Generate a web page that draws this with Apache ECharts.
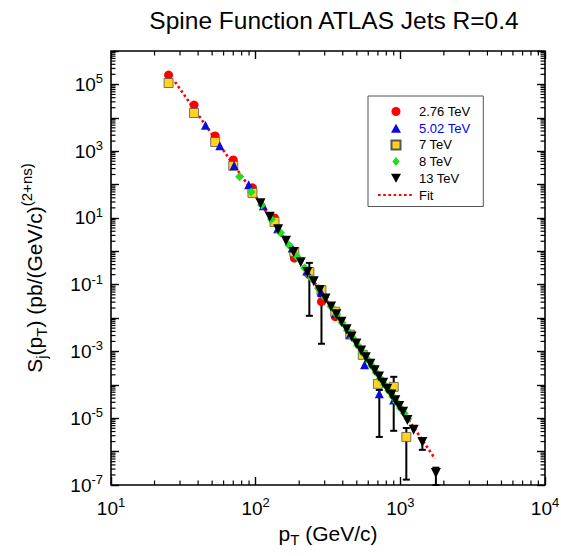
<!DOCTYPE html>
<html><head><meta charset="utf-8">
<script src="https://cdn.jsdelivr.net/npm/echarts@6/dist/echarts.min.js"></script>
<style>html,body{margin:0;padding:0;background:#fff}#c{width:561px;height:556px}</style>
</head><body><div id="c"></div>
<script>
// ---- data (pT in GeV/c, S_j in pb/(GeV/c)^(2+ns)) ----
const pt276 = [25, 37.5, 52.5, 70, 95, 135, 185, 235, 285, 355];
const s276  = [1.9e5, 2.4e4, 2850, 545, 80, 10, 0.63, 0.2, 0.031, 0.011];
const pt502 = [45, 56.5, 71, 89.5, 113, 142, 179, 225.5, 283.5, 357, 449.5, 566, 715.5, 900];
const s502  = [6000, 1450, 372, 98, 23, 4.7, 1.26, 0.256, 0.060, 0.014, 3.25e-3, 3.98e-4, 5.4e-5, 3.5e-5];
const pt7   = [25, 37.5, 52.5, 70, 95, 135, 185, 235, 285, 355, 450, 550, 700, 900, 1100];
const s7    = [1.1e5, 1.39e4, 1880, 361, 56, 7.6, 0.96, 0.24, 0.069, 0.0155, 3.2e-3, 7.9e-4, 1.07e-4, 8.7e-5, 2.75e-6];
const pt8   = [77.5, 93, 110, 128.5, 148.5, 170, 193, 218, 244.5, 272, 301, 331.5, 363, 396, 431, 468, 506.5, 546.5, 588.5, 632.5, 679, 727.5, 778, 831, 886, 943, 1002, 1063, 1126];
const s8    = [170, 60, 24.3, 9.06, 3.61, 1.53, 0.684, 0.317, 0.153, 0.078, 0.0411, 0.0223, 0.0126, 7.25e-3, 4.24e-3, 2.52e-3, 1.53e-3, 9.44e-4, 5.92e-4, 3.74e-4, 2.39e-4, 1.54e-4, 1.01e-4, 6.65e-5, 4.44e-5, 2.99e-5, 2.04e-5, 1.40e-5, 9.7e-6];
const pt13  = [108, 125, 143, 162, 183, 205, 228, 252, 277, 304, 332, 361, 392, 425, 460, 497, 536, 577, 620, 665, 712, 761, 812, 866, 923, 982, 1044, 1119, 1236, 1420, 1761];
const s13   = [27.4, 10.8, 4.58, 2.07, 0.96, 0.468, 0.239, 0.127, 0.0697, 0.0387, 0.0221, 0.0130, 7.73e-3, 4.63e-3, 2.81e-3, 1.72e-3, 1.07e-3, 6.69e-4, 4.25e-4, 2.73e-4, 1.77e-4, 1.16e-4, 7.7e-5, 5.1e-5, 3.43e-5, 2.32e-5, 1.57e-5, 8.9e-6, 4.5e-6, 1.95e-6, 2.3e-7];
const fitPt = [27.7, 91.4, 152, 1205, 1738];
const fitS  = [1.18e5, 79, 3.1, 6.3e-6, 6.1e-7];
// error bars
const errPt   = [235, 285, 715.5, 900, 1100, 1420, 1761];
const errLow  = [0.0117, 1.7e-3, 2.75e-6, 4.2e-6, 1.45e-7, 1.13e-6, 1e-7];
const errHigh = [0.45, 0.045, 7e-5, 1.74e-4, 5.1e-6, 2.4e-6, 3.3e-7];
// axis
const xTickExps = [1, 2, 3, 4];
const yLabelExps = [-7, -5, -3, -1, 1, 3, 5];
const seriesNames = ['2.76 TeV', '5.02 TeV', '7 TeV', '8 TeV', '13 TeV', 'Fit'];

const F = 'Liberation Sans, Arial, sans-serif';
const zip = (a, b) => a.map((v, i) => [v, b[i]]);
const xMinor = [], yMinor = [];
for (let e = 1; e < 4; e++) for (let m = 2; m <= 9; m++) xMinor.push(m * Math.pow(10, e));
for (let e = -7; e < 6; e++) for (let m = 2; m <= 9; m++) yMinor.push(m * Math.pow(10, e));
const TICK = {stroke: '#000', lineWidth: 1.2};
const ML = 4.5;

const ICON = {
  circle: 'path://M5,0A5,5,0,1,1,5,10A5,5,0,1,1,5,0Z',
  up: 'path://M5,0L10,9L0,9Z',
  rect: 'path://M0,0H10V10H0Z',
  diamond: 'path://M5,0L10,6L5,12L0,6Z',
  down: 'path://M0,0L10,0L5,9Z'
};

const supRich = {
  b: {fontFamily: F, fontSize: 19, color: '#000', lineHeight: 24},
  s: {fontFamily: F, fontSize: 13, color: '#000', lineHeight: 14, verticalAlign: 'top'}
};

const chart = echarts.init(document.getElementById('c'), null, {renderer: 'svg'});
chart.setOption({
  animation: false,
  backgroundColor: '#fff',
  title: {
    text: 'Spine Function ATLAS Jets R=0.4', left: 329, top: 3, textAlign: 'center',
    textStyle: {fontFamily: F, fontSize: 24.5, fontWeight: 'normal', color: '#000'}
  },
  legend: {
    data: [
      {name: seriesNames[0], icon: ICON.circle},
      {name: seriesNames[1], icon: ICON.up, textStyle: {color: '#0000ff'}},
      {name: seriesNames[2], icon: ICON.rect},
      {name: seriesNames[3], icon: ICON.diamond},
      {name: seriesNames[4], icon: ICON.down},
      {name: seriesNames[5], itemStyle: {opacity: 0}}
    ],
    orient: 'vertical', left: 368, top: 96, itemWidth: 36, itemHeight: 9, itemGap: 3.7,
    symbolKeepAspect: true,
    padding: [9, 13, 5, 9], borderColor: '#555', borderWidth: 1, backgroundColor: '#fff',
    textStyle: {fontFamily: F, fontSize: 13, color: '#000'}, selectedMode: false
  },
  grid: {left: 111, right: 16, top: 51, bottom: 71, show: true, borderColor: '#000', borderWidth: 1.6,
         backgroundColor: 'transparent', outerBoundsMode: 'none'},
  xAxis: [
    {type: 'log', logBase: 10, min: 10, max: 10000, position: 'bottom',
     axisLine: {show: false, onZero: false}, splitLine: {show: false},
     axisTick: {inside: true, length: 8, lineStyle: {color: '#000', width: 1.4}},
     axisLabel: {margin: 11, interval: 0,
       formatter: v => { const e = Math.round(Math.log10(v)); return xTickExps.includes(e) ? '{b|10}{s|' + e + '}' : ''; },
       rich: supRich},
     name: '{n|p}{sub|T}{n| (GeV/c)}', nameLocation: 'middle', nameGap: 34,
     nameTextStyle: {rich: {
       n: {fontFamily: F, fontSize: 21, color: '#000', lineHeight: 28},
       sub: {fontFamily: F, fontSize: 15, color: '#000', lineHeight: 14, verticalAlign: 'bottom'}}}},
    {type: 'log', logBase: 10, min: 10, max: 10000, position: 'top',
     axisLine: {show: false, onZero: false}, splitLine: {show: false}, axisLabel: {show: false},
     axisTick: {inside: true, length: 8, lineStyle: {color: '#000', width: 1.4}}}
  ],
  yAxis: [
    {type: 'log', logBase: 10, min: 1e-7, max: 1e6, position: 'left',
     axisLine: {show: false, onZero: false}, axisTick: {show: false}, axisLabel: {show: false}, splitLine: {show: false}},
    {type: 'value', min: -7, max: 6, interval: 1, position: 'left',
     axisLine: {show: false, onZero: false}, splitLine: {show: false},
     axisTick: {inside: true, length: 8, lineStyle: {color: '#000', width: 1.4}},
     axisLabel: {margin: 8, interval: 0,
       formatter: v => yLabelExps.includes(v) ? '{b|10}{s|' + v + '}' : '', rich: supRich},
     name: '{n|S}{sub|j}{n|(p}{sub|T}{n|) (pb/(GeV/c)}{sup|(2+ns)}', nameLocation: 'middle', nameGap: 62, nameRotate: 90,
     nameTextStyle: {rich: {
       n: {fontFamily: F, fontSize: 21, color: '#000', lineHeight: 30},
       sub: {fontFamily: F, fontSize: 15, color: '#000', lineHeight: 14, verticalAlign: 'bottom'},
       sup: {fontFamily: F, fontSize: 15, color: '#000', lineHeight: 16, verticalAlign: 'top'}}}},
    {type: 'value', min: -7, max: 6, interval: 1, position: 'right',
     axisLine: {show: false, onZero: false}, splitLine: {show: false}, axisLabel: {show: false},
     axisTick: {inside: true, length: 8, lineStyle: {color: '#000', width: 1.4}}}
  ],
  series: [
    {type: 'line', name: 'Fit', data: zip(fitPt, fitS), symbol: 'none', z: 1, silent: true,
     lineStyle: {color: '#ff0000', width: 2.6, type: [2.6, 2.6]}, itemStyle: {color: '#ff0000'}},
    {type: 'custom', name: 'err', data: errPt.map((p, i) => [p, errLow[i], errHigh[i]]), z: 2, silent: true,
     encode: {x: 0, y: [1, 2]},
     renderItem: (p, api) => {
       const lo = api.coord([api.value(0), api.value(1)]), hi = api.coord([api.value(0), api.value(2)]);
       const w = 3.5, st = {stroke: '#000', lineWidth: 2};
       return {type: 'group', children: [
         {type: 'line', shape: {x1: lo[0], y1: lo[1], x2: hi[0], y2: hi[1]}, style: st},
         {type: 'line', shape: {x1: lo[0] - w, y1: lo[1], x2: lo[0] + w, y2: lo[1]}, style: st},
         {type: 'line', shape: {x1: hi[0] - w, y1: hi[1], x2: hi[0] + w, y2: hi[1]}, style: st}]};
     }},
    {type: 'scatter', name: '2.76 TeV', data: zip(pt276, s276), symbol: 'circle', symbolSize: 9, z: 3, silent: true,
     itemStyle: {color: '#ff0000', opacity: 1}},
    {type: 'scatter', name: '7 TeV', data: zip(pt7, s7), symbol: 'rect', symbolSize: 9, z: 4, silent: true,
     itemStyle: {color: '#ffd21f', borderColor: '#555', borderWidth: 0.8, opacity: 1}},
    {type: 'scatter', name: '5.02 TeV', data: zip(pt502, s502), symbol: 'triangle', symbolSize: 9, z: 5, silent: true,
     itemStyle: {color: '#0a0ae6', opacity: 1}},
    {type: 'scatter', name: '8 TeV', data: zip(pt8, s8), symbol: 'diamond', symbolSize: 9, z: 6, silent: true,
     itemStyle: {color: '#22dd22', opacity: 1}},
    {type: 'scatter', name: '13 TeV', data: zip(pt13, s13), symbol: 'triangle', symbolRotate: 180, symbolSize: 10, z: 7, silent: true,
     itemStyle: {color: '#000', opacity: 1}},
    {type: 'custom', name: 'xminor', data: xMinor.map(v => [v, 1]), z: 8, silent: true, encode: {x: 0, y: 1},
     renderItem: (p, api) => {
       const b = api.coord([api.value(0), 1e-7]), t = api.coord([api.value(0), 1e6]);
       return {type: 'group', children: [
         {type: 'line', shape: {x1: b[0], y1: b[1], x2: b[0], y2: b[1] - ML}, style: TICK},
         {type: 'line', shape: {x1: t[0], y1: t[1], x2: t[0], y2: t[1] + ML}, style: TICK}]};
     }},
    {type: 'custom', name: 'yminor', data: yMinor.map(v => [100, v]), z: 8, silent: true, encode: {x: 0, y: 1},
     renderItem: (p, api) => {
       const l = api.coord([10, api.value(1)]), r = api.coord([10000, api.value(1)]);
       return {type: 'group', children: [
         {type: 'line', shape: {x1: l[0], y1: l[1], x2: l[0] + ML, y2: l[1]}, style: TICK},
         {type: 'line', shape: {x1: r[0], y1: r[1], x2: r[0] - ML, y2: r[1]}, style: TICK}]};
     }}
  ]
});
</script></body></html>
